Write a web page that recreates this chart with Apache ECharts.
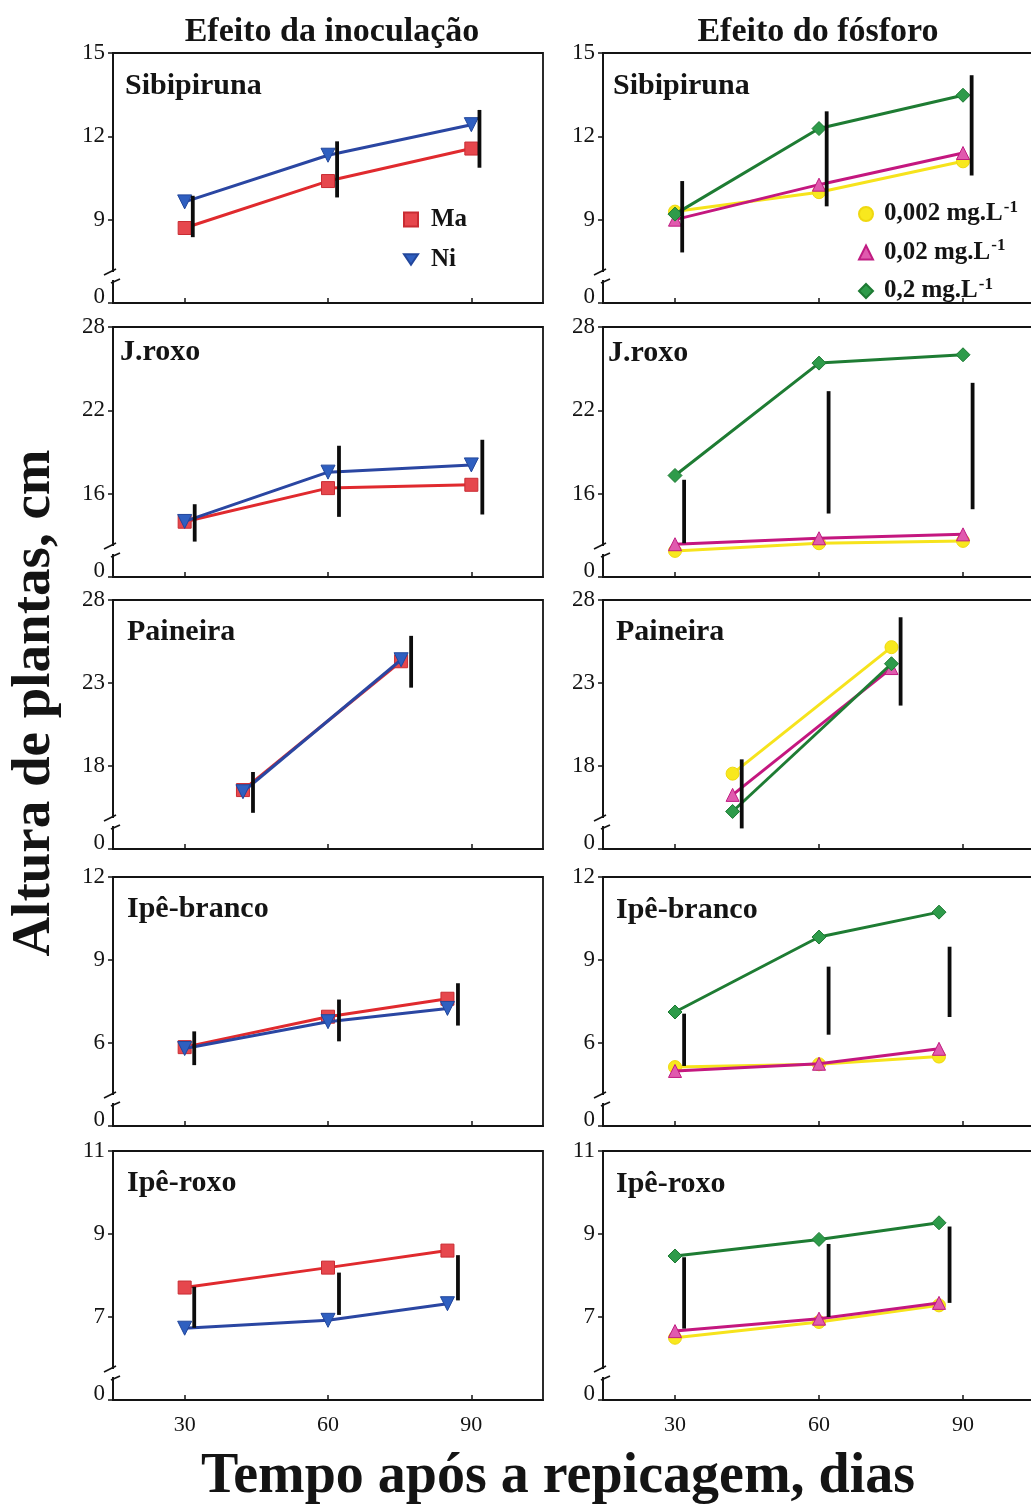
<!DOCTYPE html>
<html>
<head>
<meta charset="utf-8">
<script src="https://cdn.jsdelivr.net/npm/echarts@6.0.0/dist/echarts.min.js"></script>
<style>
  html, body { margin: 0; padding: 0; background: #fff; overflow: hidden; }
  #chart { width: 1040px; height: 1510px; }
</style>
</head>
<body>
<div id="chart"></div>
<script>
// ---- x axis (days after transplanting) ----
const dayTicks = [30, 60, 90];
const xRange = [15, 105];

// ---- species (rows) and their y scales; bottom of each axis is printed as 0 ----
const species = ['Sibipiruna', 'J.roxo', 'Paineira', 'Ipê-branco', 'Ipê-roxo'];
const yBottom = [6, 10, 13, 3, 5];
const yTicks = [
  [9, 12, 15],
  [16, 22, 28],
  [18, 23, 28],
  [6, 9, 12],
  [7, 9, 11]
];

// ---- Efeito da inoculação (Ma / Ni) ----
const sibInocDays = [30, 60, 90];
const sibMa = [8.70, 10.39, 11.56];
const sibNi = [9.64, 11.32, 12.42];
const sibInocBarDays = [31.7, 61.9, 91.7];
const sibInocBarLow = [8.37, 9.80, 10.87];
const sibInocBarHigh = [9.86, 11.82, 12.95];

const jrInocDays = [30, 60, 90];
const jrMa = [13.98, 16.40, 16.64];
const jrNi = [14.00, 17.55, 18.07];
const jrInocBarDays = [32.1, 62.3, 92.3];
const jrInocBarLow = [12.55, 14.33, 14.50];
const jrInocBarHigh = [15.24, 19.45, 19.88];

const paiInocDays = [42.2, 75.3];
const paiMa = [16.55, 24.31];
const paiNi = [16.45, 24.40];
const paiInocBarDays = [44.3, 77.4];
const paiInocBarLow = [15.18, 22.72];
const paiInocBarHigh = [17.64, 25.84];

const ibInocDays = [30, 60, 85];
const ibMa = [5.85, 6.95, 7.60];
const ibNi = [5.80, 6.77, 7.25];
const ibInocBarDays = [32.0, 62.3, 87.2];
const ibInocBarLow = [5.20, 6.06, 6.63];
const ibInocBarHigh = [6.42, 7.57, 8.16];

const irInocDays = [30, 60, 85];
const irMa = [7.71, 8.19, 8.60];
const irNi = [6.73, 6.92, 7.32];
const irInocBarDays = [32.0, 62.3, 87.2];
const irInocBarLow = [6.74, 7.05, 7.40];
const irInocBarHigh = [7.73, 8.07, 8.49];

// ---- Efeito do fósforo (0,002 / 0,02 / 0,2 mg.L-1) ----
const sibPDays = [30, 60, 90];
const sibP002 = [9.29, 9.99, 11.10];
const sibP02 = [9.00, 10.26, 11.40];
const sibP2 = [9.20, 12.28, 13.48];
const sibPBarDays = [31.5, 61.6, 91.8];
const sibPBarLow = [7.82, 9.48, 10.59];
const sibPBarHigh = [10.39, 12.90, 14.20];

const jrPDays = [30, 60, 90];
const jrP002 = [11.88, 12.43, 12.60];
const jrP02 = [12.36, 12.79, 13.07];
const jrP2 = [17.31, 25.40, 26.00];
const jrPBarDays = [31.9, 62.0, 92.0];
const jrPBarLow = [12.43, 14.57, 14.88];
const jrPBarHigh = [17.00, 23.38, 23.98];

const paiPDays = [42.0, 75.1];
const paiP002 = [17.54, 25.16];
const paiP02 = [16.26, 23.90];
const paiP2 = [15.26, 24.16];
const paiPBarDays = [43.9, 77.0];
const paiPBarLow = [14.24, 21.64];
const paiPBarHigh = [18.40, 26.96];

const ibPDays = [30, 60, 85];
const ibP002 = [5.13, 5.23, 5.51];
const ibP02 = [4.99, 5.25, 5.79];
const ibP2 = [7.12, 9.83, 10.73];
const ibPBarDays = [31.9, 62.0, 87.2];
const ibPBarLow = [5.17, 6.30, 6.94];
const ibPBarHigh = [7.06, 8.76, 9.48];

const irPDays = [30, 60, 85];
const irP002 = [6.50, 6.88, 7.28];
const irP02 = [6.66, 6.96, 7.34];
const irP2 = [8.47, 8.87, 9.27];
const irPBarDays = [31.9, 62.0, 87.2];
const irPBarLow = [6.72, 7.00, 7.34];
const irPBarHigh = [8.44, 8.76, 9.18];

// ---- series identity and style ----
const inocNames = ['Ma', 'Ni'];
const doseNames = ['0,002', '0,02', '0,2'];
const seriesLook = {
  'Ma':    { symbol: 'rect', size: 13, rotate: 0, fill: '#e6474d', edge: '#c92c33', line: '#e02a2e' },
  'Ni':    { symbol: 'triangle', size: 14, rotate: 180, fill: '#2f5fc0', edge: '#22479c', line: '#2a46a2' },
  '0,002': { symbol: 'circle', size: 13, rotate: 0, fill: '#f8e81e', edge: '#efd810', line: '#f6e31c' },
  '0,02':  { symbol: 'triangle', size: 13, rotate: 0, fill: '#e05aae', edge: '#c01c82', line: '#c4177f' },
  '0,2':   { symbol: 'diamond', size: 14, rotate: 0, fill: '#2e9b4a', edge: '#1d7a33', line: '#1e7c33' }
};

const inocPanels = [
  { days: sibInocDays, vals: [sibMa, sibNi], bar: [sibInocBarDays, sibInocBarLow, sibInocBarHigh] },
  { days: jrInocDays,  vals: [jrMa, jrNi],   bar: [jrInocBarDays, jrInocBarLow, jrInocBarHigh] },
  { days: paiInocDays, vals: [paiMa, paiNi], bar: [paiInocBarDays, paiInocBarLow, paiInocBarHigh] },
  { days: ibInocDays,  vals: [ibMa, ibNi],   bar: [ibInocBarDays, ibInocBarLow, ibInocBarHigh] },
  { days: irInocDays,  vals: [irMa, irNi],   bar: [irInocBarDays, irInocBarLow, irInocBarHigh] }
];
const pPanels = [
  { days: sibPDays, vals: [sibP002, sibP02, sibP2], bar: [sibPBarDays, sibPBarLow, sibPBarHigh] },
  { days: jrPDays,  vals: [jrP002, jrP02, jrP2],    bar: [jrPBarDays, jrPBarLow, jrPBarHigh] },
  { days: paiPDays, vals: [paiP002, paiP02, paiP2], bar: [paiPBarDays, paiPBarLow, paiPBarHigh] },
  { days: ibPDays,  vals: [ibP002, ibP02, ibP2],    bar: [ibPBarDays, ibPBarLow, ibPBarHigh] },
  { days: irPDays,  vals: [irP002, irP02, irP2],    bar: [irPBarDays, irPBarLow, irPBarHigh] }
];

// ---- layout ----
const FONT = '"Liberation Serif", "Times New Roman", serif';
const INK = '#141414';
const colLeft = [113, 603];
const colWidth = [430, 432];
const rowTop = [53, 327, 600, 877, 1151];
const rowHeight = [250, 250, 249, 249, 249];
const titleOffset = [
  [[12, 18], [10, 18]],
  [[7, 10], [5, 11]],
  [[14, 17], [13, 17]],
  [[14, 17], [13, 18]],
  [[14, 17], [13, 18]]
];

const grids = [], xAxes = [], yAxes = [], series = [], titles = [], graphics = [];

function addPanel(col, row, panel, names) {
  const idx = grids.length;
  const gl = colLeft[col], gt = rowTop[row], gw = colWidth[col], gh = rowHeight[row];
  grids.push({
    left: gl, top: gt, width: gw, height: gh,
    show: true, borderColor: INK, borderWidth: 1.8, backgroundColor: 'transparent'
  });
  xAxes.push({
    gridIndex: idx, type: 'value', min: xRange[0], max: xRange[1],
    splitLine: { show: false },
    axisLine: { show: true, lineStyle: { color: INK, width: 1.8 } },
    axisTick: { show: true, inside: true, length: 5, customValues: dayTicks, lineStyle: { color: INK, width: 1.5 } },
    axisLabel: {
      show: row === 4, customValues: dayTicks, margin: 14,
      fontFamily: FONT, fontSize: 22, color: INK
    }
  });
  const yMin = yBottom[row];
  const yMax = yTicks[row][yTicks[row].length - 1];
  const yVals = [yMin].concat(yTicks[row]);
  yAxes.push({
    gridIndex: idx, type: 'value', min: yMin, max: yMax,
    splitLine: { show: false },
    axisLine: { show: true, lineStyle: { color: INK, width: 1.8 } },
    axisTick: { show: true, inside: false, length: 5, customValues: yVals, lineStyle: { color: INK, width: 1.5 } },
    axisLabel: {
      customValues: yVals, margin: 8, showMinLabel: true, showMaxLabel: true,
      fontFamily: FONT, fontSize: 23, color: INK,
      formatter: v => (v === yMin ? '{z|0}' : String(v)),
      rich: { z: { fontFamily: FONT, fontSize: 23, color: INK, padding: [0, 0, 12, 0] } }
    }
  });

  names.forEach((name, k) => {
    const look = seriesLook[name];
    series.push({
      type: 'line', name: name, xAxisIndex: idx, yAxisIndex: idx,
      data: panel.days.map((d, i) => [d, panel.vals[k][i]]),
      symbol: look.symbol, symbolSize: look.size, symbolRotate: look.rotate,
      showAllSymbol: true,
      lineStyle: { color: look.line, width: 3 },
      itemStyle: { color: look.fill, borderColor: look.edge, borderWidth: 1 },
      z: 2 + k,
      emphasis: { disabled: true }
    });
  });

  // least significant difference bars
  series.push({
    type: 'custom', xAxisIndex: idx, yAxisIndex: idx, silent: true, z: 10,
    data: panel.bar[0].map((d, i) => [d, panel.bar[1][i], panel.bar[2][i]]),
    encode: { x: 0, y: [1, 2] },
    renderItem: (params, api) => {
      const p1 = api.coord([api.value(0), api.value(1)]);
      const p2 = api.coord([api.value(0), api.value(2)]);
      return {
        type: 'line',
        shape: { x1: p1[0], y1: p1[1], x2: p2[0], y2: p2[1] },
        style: { stroke: '#0c0c0c', lineWidth: 3.8 }
      };
    }
  });

  const off = titleOffset[row][col];
  titles.push({
    text: species[row], left: gl + off[0], top: gt + off[1], padding: 0,
    textStyle: { fontFamily: FONT, fontWeight: 'bold', fontSize: 30, color: INK }
  });

  // broken-axis marks on the left spine
  const gb = gt + gh;
  graphics.push(
    { type: 'rect', z: 100, shape: { x: gl - 3, y: gb - 31, width: 6, height: 8 }, style: { fill: '#fff' } },
    { type: 'line', z: 101, shape: { x1: gl - 9, y1: gb - 28, x2: gl + 3, y2: gb - 34 }, style: { stroke: INK, lineWidth: 1.8 } },
    { type: 'line', z: 101, shape: { x1: gl - 2, y1: gb - 20, x2: gl + 7, y2: gb - 24 }, style: { stroke: INK, lineWidth: 1.8 } }
  );
}

for (let r = 0; r < 5; r++) {
  addPanel(0, r, inocPanels[r], inocNames);
  addPanel(1, r, pPanels[r], doseNames);
}

// column headings and axis names
graphics.push(
  { type: 'text', z: 100, x: 332, y: 32, style: { text: 'Efeito da inoculação', fontFamily: FONT, fontWeight: 'bold', fontSize: 34, fill: INK, align: 'center', verticalAlign: 'middle' } },
  { type: 'text', z: 100, x: 818, y: 32, style: { text: 'Efeito do fósforo', fontFamily: FONT, fontWeight: 'bold', fontSize: 34, fill: INK, align: 'center', verticalAlign: 'middle' } },
  { type: 'text', z: 100, x: 35, y: 703, rotation: Math.PI / 2, style: { text: 'Altura de plantas, cm', fontFamily: FONT, fontWeight: 'bold', fontSize: 55, fill: INK, align: 'center', verticalAlign: 'middle' } },
  { type: 'text', z: 100, x: 558, y: 1478, style: { text: 'Tempo após a repicagem, dias', fontFamily: FONT, fontWeight: 'bold', fontSize: 56, fill: INK, align: 'center', verticalAlign: 'middle' } }
);

const legends = [
  {
    orient: 'vertical', left: 398, top: 202, itemWidth: 14, itemHeight: 14, itemGap: 15,
    selectedMode: false,
    data: [{ name: 'Ma', icon: 'rect' }, { name: 'Ni', icon: 'path://M0,0L20,0L10,15Z' }],
    formatter: name => '{t|' + name + '}',
    textStyle: { rich: { t: { fontFamily: FONT, fontWeight: 'bold', fontSize: 25, color: INK, padding: [0, 0, 0, 8] } } }
  },
  {
    orient: 'vertical', left: 853, top: 194, itemWidth: 14, itemHeight: 14, itemGap: 11,
    selectedMode: false,
    data: [{ name: '0,002', icon: 'circle' }, { name: '0,02', icon: 'triangle' }, { name: '0,2', icon: 'diamond' }],
    formatter: name => '{t|' + name + ' mg.L}{s|-1}',
    textStyle: {
      rich: {
        t: { fontFamily: FONT, fontWeight: 'bold', fontSize: 25, color: INK, padding: [0, 0, 0, 6] },
        s: { fontFamily: FONT, fontWeight: 'bold', fontSize: 17, color: INK, padding: [0, 0, 13, 1] }
      }
    }
  }
];

const chart = echarts.init(document.getElementById('chart'), null, { renderer: 'canvas' });
chart.setOption({
  animation: false,
  backgroundColor: '#fff',
  title: titles,
  legend: legends,
  grid: grids,
  xAxis: xAxes,
  yAxis: yAxes,
  series: series,
  graphic: graphics
});
</script>
</body>
</html>
